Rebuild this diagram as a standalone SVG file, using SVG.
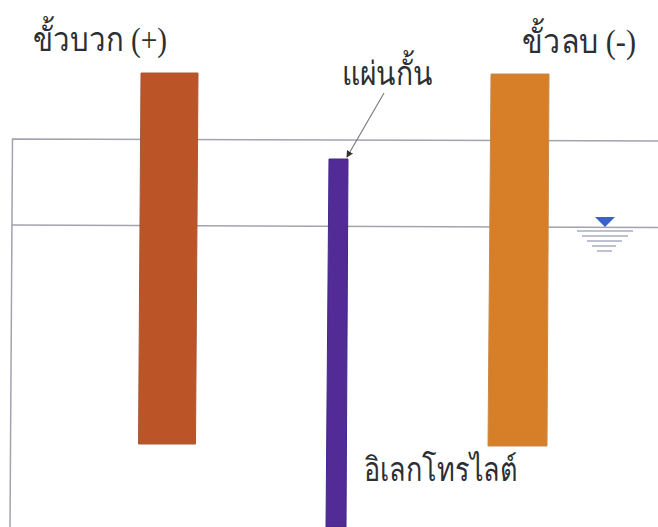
<svg xmlns="http://www.w3.org/2000/svg" width="658" height="527" viewBox="0 0 658 527">
<style>
.line{fill:none;stroke:#a3a3b0;stroke-width:1.5}
.lbl{font-family:"Liberation Serif","Noto Sans",serif;font-size:33px;fill:#2c2f33}
.w{stroke:#a9adc4;stroke-width:1.300;fill:none}
</style>
<defs><marker id="a" markerWidth="8" markerHeight="8" refX="6" refY="3.5" orient="auto" markerUnits="userSpaceOnUse"><path d="M0 0L7 3.5L0 7Z" fill="#333"/></marker></defs>
<rect width="658" height="527" fill="#fff"/>
<g id="connectors">
<path class="line" d="M10 527L12.500 139L658 141"/>
<path class="line" d="M12 225L658 227.500"/>
<path d="M384 93L347 157" stroke="#777" stroke-width="1.100" fill="none" marker-end="url(#a)"/>
</g>
<g id="positive-electrode"><path d="M141 73H198L195.500 444H138.500Z" fill="#bb5528" stroke="#a5583a"/></g>
<g id="negative-electrode"><path d="M491 74H549L547 446H488Z" fill="#d77f28" stroke="#c58a4c"/></g>
<g id="separator"><path d="M329 159H348L346 527H326Z" fill="#522b96" stroke="#3e2a8c"/></g>
<g id="water-level">
<path d="M595 217H615L605 227Z" fill="#3b62c4"/>
<path class="w" d="M577 231H633M582 236H628M587 241H622M592 246H616M597 251H612"/>
</g>
<g id="label-positive"><text class="lbl" x="33" y="51" textLength="134" lengthAdjust="spacingAndGlyphs">ขั้วบวก (+)</text></g>
<g id="label-negative"><text class="lbl" x="522" y="53" textLength="114" lengthAdjust="spacingAndGlyphs">ขั้วลบ (-)</text></g>
<g id="label-separator"><text class="lbl" x="342" y="85" textLength="91" lengthAdjust="spacingAndGlyphs">แผ่นกั้น</text></g>
<g id="label-electrolyte"><text class="lbl" x="364" y="481" textLength="153" lengthAdjust="spacingAndGlyphs">อิเลกโทรไลต์</text></g>
</svg>
